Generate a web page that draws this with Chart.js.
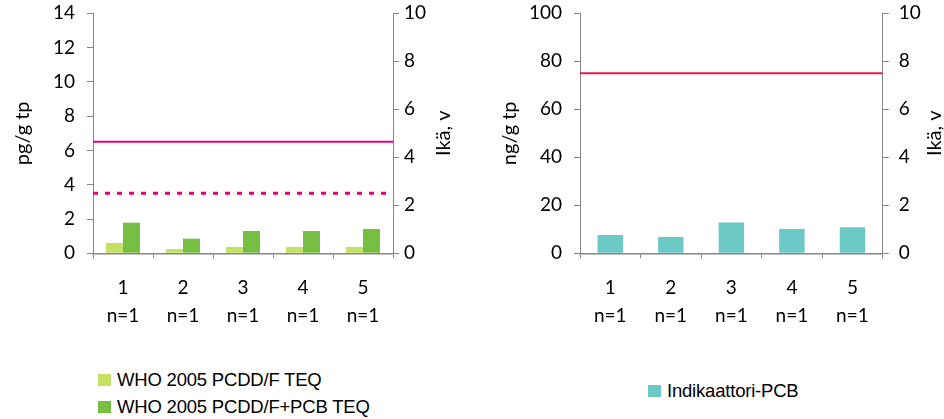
<!DOCTYPE html>
<html>
<head>
<meta charset="utf-8">
<script src="https://cdn.jsdelivr.net/npm/chart.js@4/dist/chart.umd.min.js"></script>
<style>
  html, body { margin: 0; padding: 0; background: #fff; }
  body { width: 944px; height: 419px; position: relative; overflow: hidden; }
  .panel { position: absolute; top: 0; height: 330px; }
  #teqPanel { left: 0; width: 470px; }
  #pcbPanel { left: 470px; width: 474px; }
  .legend { position: absolute; font-family: "Liberation Sans", Arial, sans-serif; font-size: 18.5px; color: #000; letter-spacing: -0.2px; }
  .legend .item { position: absolute; left: 0; display: flex; align-items: center; white-space: nowrap; height: 20px; transform: translateY(-50%); }
  .legend .swatch { width: 13px; height: 12px; margin-right: 6px; flex: none; }
  #teqLegend { left: 98px; top: 0; }
  #pcbLegend { left: 648px; top: 0; }
</style>
</head>
<body>
<div class="panel" id="teqPanel"><canvas id="teqChart" width="470" height="330"></canvas></div>
<div class="panel" id="pcbPanel"><canvas id="pcbChart" width="474" height="330"></canvas></div>
<div class="legend" id="teqLegend"></div>
<div class="legend" id="pcbLegend"></div>

<script>
// Sample groups along the x axis, with sample counts shown underneath
const groupLabels = ['1', '2', '3', '4', '5'];
const sampleCounts = ['n=1', 'n=1', 'n=1', 'n=1', 'n=1'];

// Dioxin toxic equivalents, pg/g tp
const teqPcddf = [0.6, 0.25, 0.37, 0.37, 0.37];
const teqPcddfPcb = [1.78, 0.85, 1.3, 1.3, 1.42];

// Indicator PCB, ng/g tp
const indicatorPcb = [7.6, 6.8, 12.8, 10.1, 10.9];

// Limit values drawn as horizontal lines across the plot
const limitTeqPcddfPcb = 6.5;
const limitTeqPcddf = 3.5;
const limitIndicatorPcb = 75;

// Axis ranges: [min, max, step]
const teqAxisRange = [0, 14, 2];
const pcbAxisRange = [0, 100, 20];
const ageAxisRange = [0, 10, 2];

// Axis titles and series names
const teqAxisTitle = 'pg/g tp';
const pcbAxisTitle = 'ng/g tp';
const ageAxisTitle = 'Ikä, v';
const teqPcddfName = 'WHO 2005 PCDD/F TEQ';
const teqPcddfPcbName = 'WHO 2005 PCDD/F+PCB TEQ';
const indicatorPcbName = 'Indikaattori-PCB';

const axisGray = '#868686';
const tickFont = { family: 'Lato, "Open Sans", sans-serif', size: 19 };
const titleFont = { family: 'Lato, "Open Sans", sans-serif', size: 20 };

// Right-hand axis title, read bottom to top like the left one
const ageTitlePlugin = {
  id: 'ageTitle',
  afterDraw(chart, args, opts) {
    const scale = chart.scales.age;
    const area = chart.chartArea;
    const ctx = chart.ctx;
    ctx.save();
    ctx.font = `${opts.size}px ${opts.family}`;
    ctx.fillStyle = opts.color;
    ctx.textAlign = 'center';
    ctx.textBaseline = 'middle';
    ctx.translate(scale.right - opts.offset, (area.top + area.bottom) / 2);
    ctx.rotate(-Math.PI / 2);
    ctx.fillText(opts.text, 0, 0);
    ctx.restore();
  }
};

// Horizontal limit lines placed with the value scale, spanning the plot width
const limitLinesPlugin = {
  id: 'limitLines',
  afterDatasetsDraw(chart, args, opts) {
    const y = chart.scales.y;
    const area = chart.chartArea;
    const ctx = chart.ctx;
    ctx.save();
    ctx.beginPath();
    ctx.rect(area.left, area.top, area.right - area.left, area.bottom - area.top);
    ctx.clip();
    (opts.lines || []).forEach(line => {
      const py = y.getPixelForValue(line.value);
      ctx.beginPath();
      ctx.strokeStyle = line.color;
      ctx.lineWidth = line.width;
      ctx.lineCap = 'butt';
      ctx.setLineDash(line.dash || []);
      ctx.moveTo(area.left, py);
      ctx.lineTo(line.dash && line.dash.length ? area.right - 6 : area.right, py);
      ctx.stroke();
    });
    ctx.restore();
  }
};

// Vertical axes keep their width and do not push the plot down for label overflow
function fixVertical(width) {
  return scale => {
    scale.width = width;
    scale.paddingTop = 0;
    scale.paddingBottom = 0;
  };
}

function buildOptions(cfg) {
  return {
    responsive: false,
    animation: false,
    events: [],
    layout: { padding: { top: 13.3, left: 0, right: 0, bottom: 0 } },
    plugins: {
      legend: { display: false },
      tooltip: { enabled: false },
      ageTitle: { text: ageAxisTitle, offset: cfg.ageTitleOffset, size: titleFont.size, family: titleFont.family, color: '#000' },
      limitLines: { lines: cfg.lines }
    },
    scales: {
      x: {
        type: 'category',
        offset: true,
        grid: { offset: true, drawOnChartArea: false, drawTicks: true, tickLength: 5, color: axisGray, lineWidth: 1 },
        border: { display: true, color: axisGray, width: 1.5 },
        ticks: { color: '#000', font: { ...tickFont, lineHeight: 1.5 }, padding: 15, maxRotation: 0, autoSkip: false },
        afterFit(scale) { scale.height = cfg.height - 253.3; }
      },
      y: {
        position: 'left',
        min: cfg.yRange[0], max: cfg.yRange[1],
        ticks: { stepSize: cfg.yRange[2], color: '#000', font: tickFont, padding: 12 },
        grid: { drawOnChartArea: false, drawTicks: true, tickLength: 6, color: axisGray },
        border: { display: true, color: axisGray },
        title: { display: true, text: cfg.yTitle, color: '#000', font: titleFont, padding: { top: cfg.yTitlePad, bottom: 0 } },
        afterFit: fixVertical(cfg.leftWidth)
      },
      age: {
        position: 'right',
        min: ageAxisRange[0], max: ageAxisRange[1],
        ticks: { stepSize: ageAxisRange[2], color: '#000', font: tickFont, padding: cfg.agePad },
        grid: { drawOnChartArea: false, drawTicks: true, tickLength: 6, color: axisGray },
        border: { display: true, color: axisGray },
        afterFit: fixVertical(cfg.rightWidth)
      }
    }
  };
}

const categoryLabels = groupLabels.map((g, i) => [g, sampleCounts[i]]);

const teqChart = new Chart(document.getElementById('teqChart'), {
  type: 'bar',
  data: {
    labels: categoryLabels,
    datasets: [
      { label: teqPcddfName, data: teqPcddf, backgroundColor: '#C4E065',
        categoryPercentage: 0.567, barPercentage: 1 },
      { label: teqPcddfPcbName, data: teqPcddfPcb, backgroundColor: '#77BF42',
        categoryPercentage: 0.567, barPercentage: 1 }
    ]
  },
  options: buildOptions({
    height: 330, yRange: teqAxisRange, yTitle: teqAxisTitle, yTitlePad: 11,
    leftWidth: 93, rightWidth: 77, agePad: 5, ageTitleOffset: 26,
    lines: [
      { value: limitTeqPcddfPcb, color: '#E5007E', width: 2 },
      { value: limitTeqPcddf, color: '#E5007E', width: 3, dash: [5, 7] }
    ]
  }),
  plugins: [ageTitlePlugin, limitLinesPlugin]
});

const pcbChart = new Chart(document.getElementById('pcbChart'), {
  type: 'bar',
  data: {
    labels: categoryLabels,
    datasets: [
      { label: indicatorPcbName, data: indicatorPcb, backgroundColor: '#6CC9C6',
        categoryPercentage: 0.42, barPercentage: 1 }
    ]
  },
  options: buildOptions({
    height: 330, yRange: pcbAxisRange, yTitle: pcbAxisTitle, yTitlePad: 28,
    leftWidth: 110, rightWidth: 61.3, agePad: 10, ageTitleOffset: 9,
    lines: [
      { value: limitIndicatorPcb, color: '#E6194E', width: 2 }
    ]
  }),
  plugins: [ageTitlePlugin, limitLinesPlugin]
});

// Legends listing the bar series of each chart
function buildLegend(chart, el, centers) {
  chart.data.datasets.forEach((d, i) => {
    const item = document.createElement('div');
    item.className = 'item';
    item.style.top = centers[i] + 'px';
    const sw = document.createElement('span');
    sw.className = 'swatch';
    sw.style.background = d.backgroundColor;
    const txt = document.createElement('span');
    txt.textContent = d.label;
    item.appendChild(sw);
    item.appendChild(txt);
    el.appendChild(item);
  });
}
buildLegend(teqChart, document.getElementById('teqLegend'), [380, 407]);
buildLegend(pcbChart, document.getElementById('pcbLegend'), [391]);
</script>
</body>
</html>
